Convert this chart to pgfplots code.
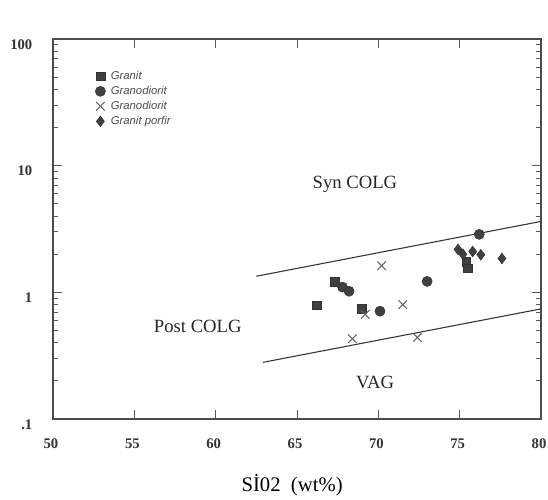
\documentclass[border=0pt]{standalone}
\usepackage{fontspec}
\setmainfont{Liberation Serif}
\setsansfont{Liberation Sans}
\usepackage{pgfplots}
\pgfplotsset{compat=1.18}

\begin{document}
\begin{tikzpicture}
\path[use as bounding box] (-39.75pt,-60pt) rectangle (371.25pt,314.25pt);
\begin{axis}[
  at={(0pt,0pt)}, anchor=south west,
  scale only axis, width=366pt, height=285pt,
  xmin=50, xmax=80, ymin=0.1, ymax=100, ymode=log,
  xtick={50,55,...,80},
  ytick={0.1,1,10,100}, yticklabels={.1,1,10,100},
  xtick pos=both, ytick pos=both, tick align=inside,
  major tick length=7pt, minor tick length=4pt,
  tick style={black!65, line width=0.6pt},
  axis line style={black!70, line width=0.9pt},
  ticklabel style={font=\bfseries\fontsize{11}{12}\selectfont, text=black!80},
  /pgf/number format/assume math mode=true,
  xticklabel style={yshift=-11.5pt, xshift=-1.5pt},
  yticklabel style={xshift=-12pt, yshift=-4pt},
  xlabel={S\.I02\ \ (wt\%)},
  xlabel style={at={(axis description cs:0.49,-0.174)}, anchor=center,
    font=\fontsize{15.5}{17}\selectfont},
  legend style={draw=none, fill=none, at={(0.078,0.93)}, anchor=north west,
    font=\sffamily\itshape\fontsize{8.5}{9}\selectfont, row sep=-0.4pt,
    text=black!70, nodes={inner xsep=4pt}},
  legend cell align=left,
  clip=false,
]
% Granit
\addplot[only marks, mark=square*, mark size=3.3pt, draw=black!80, fill=black!75]
  coordinates {(66.2,0.79)(67.3,1.22)(69.0,0.74)(75.4,1.75)(75.5,1.55)};
\addlegendentry{Granit}
% Granodiorit (circles)
\addplot[only marks, mark=*, mark size=3.8pt, draw=black!80, fill=black!75]
  coordinates {(67.8,1.10)(68.2,1.02)(70.1,0.71)(73.0,1.22)(76.2,2.87)};
\addlegendentry{Granodiorit}
% Granodiorit (crosses)
\addplot[only marks, mark=x, mark size=4.5pt, black!60, line width=0.8pt]
  coordinates {(70.2,1.62)(71.5,0.80)(68.4,0.43)(72.4,0.44)(69.2,0.67)};
\addlegendentry{Granodiorit}
% Granit porfir
\addplot[only marks, mark=diamond*, mark size=4pt, draw=black!80, fill=black!75]
  coordinates {(74.9,2.18)(75.2,2.00)(75.8,2.10)(76.3,1.98)(77.6,1.85)};
\addlegendentry{Granit porfir}
% boundary lines
\addplot[black!80, line width=0.8pt, forget plot] coordinates {(62.5,1.34)(80,3.63)};
\addplot[black!80, line width=0.8pt, forget plot] coordinates {(62.9,0.28)(80,0.74)};
\node[font=\fontsize{14}{15}\selectfont, text=black!85] at (axis cs:68.56,7.1) {Syn COLG};
\node[font=\fontsize{14}{15}\selectfont, text=black!85] at (axis cs:58.9,0.54) {Post COLG};
\node[font=\fontsize{14}{15}\selectfont, text=black!85] at (axis cs:69.8,0.195) {VAG};
\end{axis}
\end{tikzpicture}
\end{document}
